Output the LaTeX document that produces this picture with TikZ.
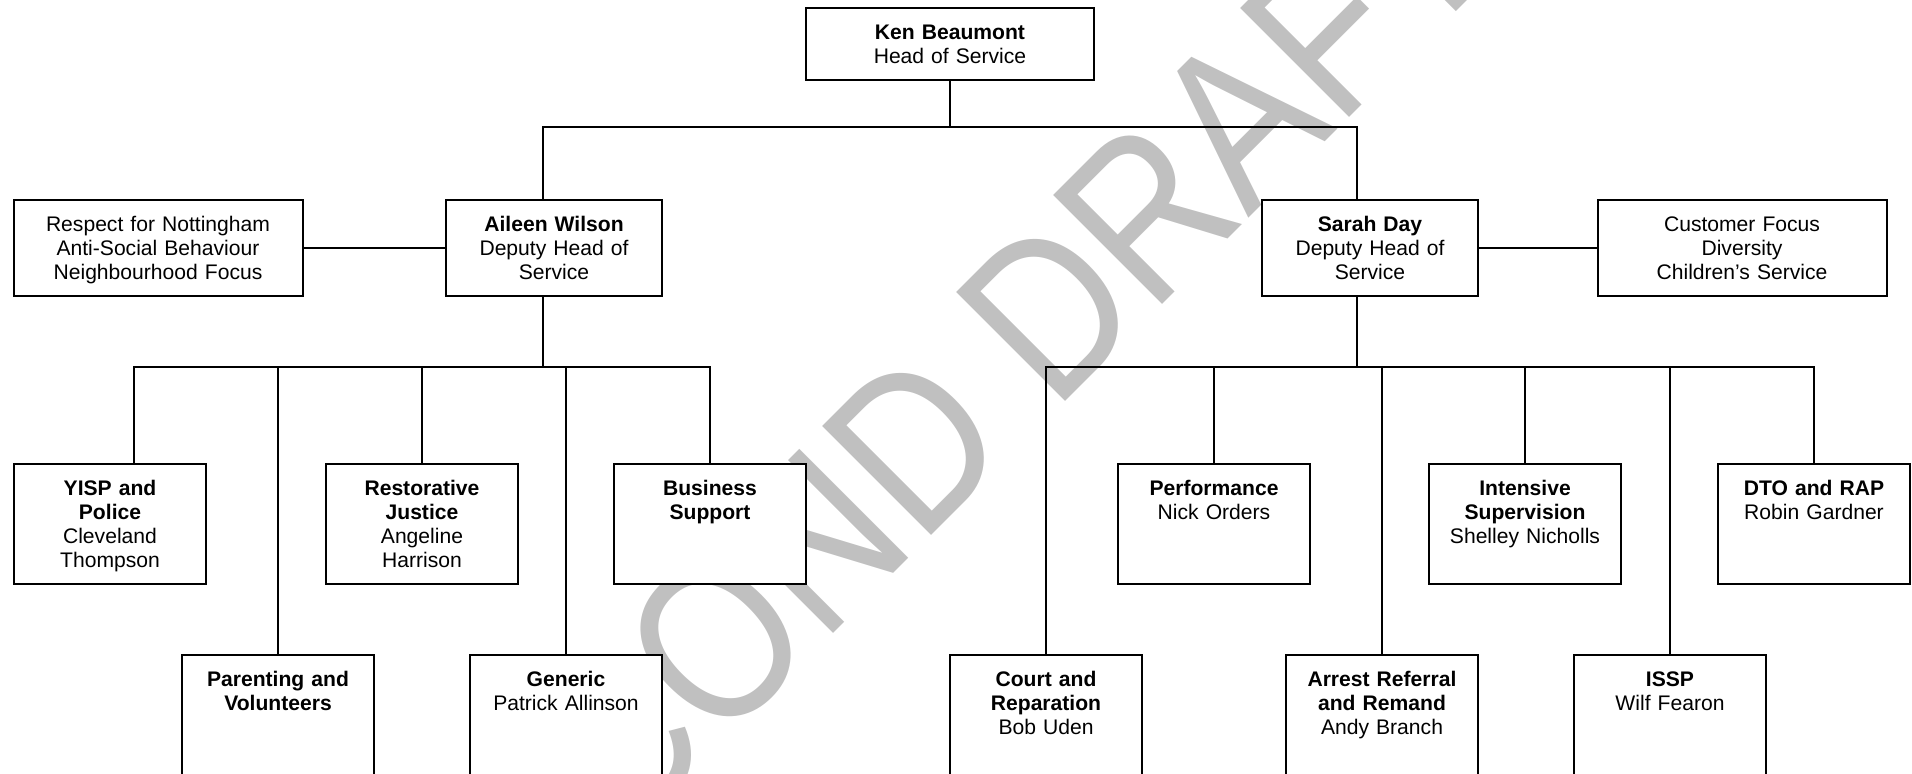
\documentclass[tikz,border=0pt]{standalone}
\usepackage{fontspec}
\setmainfont{Liberation Sans}
\usepackage{xcolor}
\usepackage{graphicx}
\usepackage{tikz}
\definecolor{wmgray}{RGB}{192,192,192}
\definecolor{boxline}{RGB}{0,0,0}
\tikzset{
  post/.style={rectangle, draw=boxline, fill=white, line width=1pt,
    inner sep=0pt, anchor=north, align=center, text height=15.5pt,
    font=\fontsize{10.55}{12.15}\selectfont},
  head/.style={post, text width=144pt, text depth=20.5pt},
  deputy/.style={post, text width=108pt, text depth=32.5pt},
  remit/.style={post, text width=144.5pt, text depth=32.5pt},
  team/.style={post, text width=96pt, text depth=44.5pt},
  lowteam/.style={post, text width=96pt, text depth=84.5pt},
  watermark/.style={anchor=base west, rotate=45, inner sep=0pt,
    text=wmgray, font=\fontsize{112}{112}\selectfont},
  link/.style={line width=1pt, color=boxline}
}

\begin{document}
\begin{tikzpicture}[x=0.5pt, y=-0.5pt]
  \useasboundingbox (0,0) rectangle (1912,773);
  \clip (0,0) rectangle (1912,773);
  % Watermark behind everything
  \node[watermark] (draft) at (441,1026) {\scalebox{0.85}[1]{SECOND DRAFT}};
  % Head of service and deputies
  \node[head] (ken) at (950,7) {\textbf{Ken Beaumont}\\Head of Service};
  \node[deputy] (aileen) at (554,199) {\textbf{Aileen Wilson}\\Deputy Head of\\Service};
  \node[deputy] (sarah) at (1370,199) {\textbf{Sarah Day}\\Deputy Head of\\Service};
  \node[remit] (respect) at (158,199) {Respect for Nottingham\\Anti-Social Behaviour\\Neighbourhood Focus};
  \node[remit] (customer) at (1742,199) {Customer Focus\\Diversity\\Children’s Service};
  % Teams under Aileen
  \node[team] (yisp) at (110,463) {\textbf{YISP and}\\\textbf{Police}\\Cleveland\\Thompson};
  \node[team] (restorative) at (422,463) {\textbf{Restorative}\\\textbf{Justice}\\Angeline\\Harrison};
  \node[team] (business) at (710,463) {\textbf{Business}\\\textbf{Support}};
  \node[lowteam] (parenting) at (278,654) {\textbf{Parenting and}\\\textbf{Volunteers}};
  \node[lowteam] (generic) at (566,654) {\textbf{Generic}\\Patrick Allinson};
  % Teams under Sarah
  \node[team] (performance) at (1214,463) {\textbf{Performance}\\Nick Orders};
  \node[team] (intensive) at (1525,463) {\textbf{Intensive}\\\textbf{Supervision}\\Shelley Nicholls};
  \node[team] (dto) at (1814,463) {\textbf{DTO and RAP}\\Robin Gardner};
  \node[lowteam] (court) at (1046,654) {\textbf{Court and}\\\textbf{Reparation}\\Bob Uden};
  \node[lowteam] (arrest) at (1382,654) {\textbf{Arrest Referral}\\\textbf{and Remand}\\Andy Branch};
  \node[lowteam] (issp) at (1670,654) {\textbf{ISSP}\\Wilf Fearon};
  % Bus junctions
  \coordinate (kbus) at (950,127);
  \coordinate (abus) at (543,367);
  \coordinate (abusl) at (134,367);
  \coordinate (sbus) at (1357,367);
  % Connectors
  \draw[link] (ken) -- (kbus);
  \draw[link] (aileen.north -| abus) |- (kbus) -| (sarah.north -| sbus);
  \draw[link] (respect) -- (aileen);
  \draw[link] (sarah) -- (customer);
  \draw[link] (aileen.south -| abus) -- (abus);
  \draw[link] (yisp.north -| abusl) -- (abusl) -| (business.north);
  \draw[link] (parenting.north) -- (parenting.north |- abus);
  \draw[link] (restorative.north) -- (restorative.north |- abus);
  \draw[link] (generic.north) -- (generic.north |- abus);
  \draw[link] (sarah.south -| sbus) -- (sbus);
  \draw[link] (court.north) |- (sbus) -| (dto.north);
  \draw[link] (performance.north) -- (performance.north |- sbus);
  \draw[link] (arrest.north) -- (arrest.north |- sbus);
  \draw[link] (intensive.north) -- (intensive.north |- sbus);
  \draw[link] (issp.north) -- (issp.north |- sbus);
\end{tikzpicture}
\end{document}
